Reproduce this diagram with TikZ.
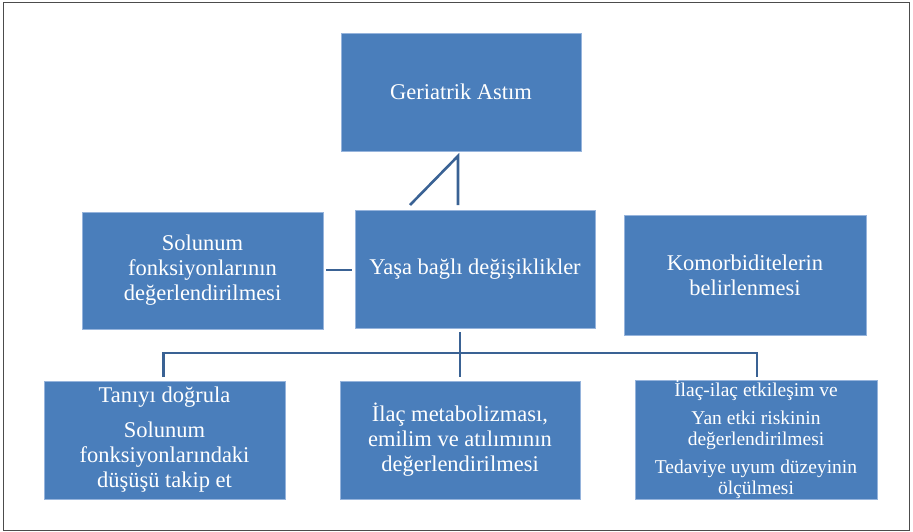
\documentclass[tikz,border=0pt]{standalone}
\usepackage{fontspec}
\setmainfont{Liberation Serif}
\definecolor{boxblue}{RGB}{74,126,187}
\definecolor{edgeblue}{RGB}{150,180,220}
\definecolor{lineblue}{RGB}{58,98,148}
\begin{document}
\begin{tikzpicture}[x=1pt,y=-1pt,
  box/.style={draw=edgeblue,line width=0.8pt,fill=boxblue,text=white,
    inner sep=0pt,align=center,font=\fontsize{22.5}{25}\selectfont},
  smallbox/.style={box,font=\fontsize{19.5}{21}\selectfont},
  conn/.style={draw=lineblue,line width=2.6pt}]
\useasboundingbox (0,0) rectangle (913,532);
\draw[gray!60!black,line width=1.3pt] (3.5,2.5) rectangle (909.5,530.5);

\node[box,minimum width=240pt,minimum height=118pt] (top) at (461,92) {Geriatrik Astım};
\node[box,minimum width=241pt,minimum height=117pt] (solunum) at (202.5,270.5) {Solunum\\fonksiyonlarının\\değerlendirilmesi};
\node[box,minimum width=240pt,minimum height=118pt] (yas) at (475,269) {Yaşa bağlı değişiklikler};
\node[box,minimum width=242pt,minimum height=120pt] (komor) at (745,275) {Komorbiditelerin\\belirlenmesi};
\node[box,minimum width=241pt,minimum height=118pt] (tani) at (164.5,440) {Tanıyı doğrula\\[10pt]Solunum\\fonksiyonlarındaki\\düşüşü takip et};
\node[box,minimum width=240pt,minimum height=118pt] (ilac) at (460,440) {İlaç metabolizması,\\emilim ve atılımının\\değerlendirilmesi};
\node[smallbox,minimum width=242pt,minimum height=118pt] (etk) at (756,440) {İlaç-ilaç etkileşim ve\\[7pt]Yan etki riskinin\\değerlendirilmesi\\[7pt]Tedaviye uyum düzeyinin\\ölçülmesi};

% top connector
\coordinate (ta) at (410,205);
\coordinate (tb) at (458,156);
\coordinate (tc) at (458,205);
\draw[conn,line join=miter] (ta) -- (tb) -- (tc);

% left connector
\coordinate (la) at (326,270);
\coordinate (lb) at (352,270);
\draw[conn] (la) -- (lb);

% bottom tree
\coordinate (va) at (460,332);
\coordinate (vb) at (460,377);
\coordinate (ha) at (163.5,353);
\coordinate (hb) at (757,353);
\coordinate (hl) at (163.5,377);
\coordinate (hr) at (757,377);
\draw[conn] (va) -- (vb);
\draw[conn,line join=miter] (hl) -- (ha) -- (hb) -- (hr);
\end{tikzpicture}
\end{document}
